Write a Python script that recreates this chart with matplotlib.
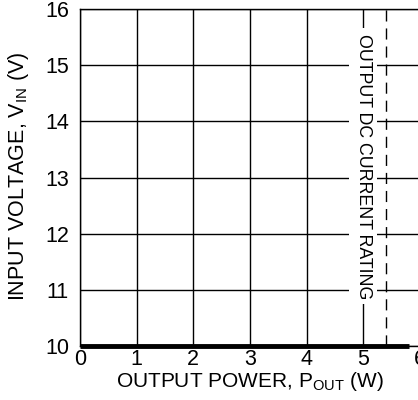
import matplotlib
matplotlib.use("Agg")
import matplotlib.pyplot as plt

plt.rcParams['font.family'] = ['Liberation Sans', 'DejaVu Sans']

# curve data (flat at the bottom of the range)
pout = [0.0, 5.8]
vin = [10.0, 10.0]
rating_x = 5.4
xticks = [0, 1, 2, 3, 4, 5, 6]
yticks = [10, 11, 12, 13, 14, 15, 16]

fig = plt.figure(figsize=(4.18, 4.0), dpi=100)
ax = fig.add_axes([80 / 418, 1 - 346 / 400, 340 / 418, 337 / 400])

ax.set_xlim(0, 6)
ax.set_ylim(10, 16)
ax.set_xticks(xticks)
ax.set_yticks(yticks)
ax.tick_params(length=0, labelsize=15.5)
ax.tick_params(axis='x', pad=2)
ax.tick_params(axis='y', pad=8)
ax.grid(True, color='black', linewidth=1)
ax.set_axisbelow(True)
for s in ax.spines.values():
    s.set_linewidth(1)
ax.spines['right'].set_visible(False)

ax.plot(pout, vin, color='black', linewidth=3.5, solid_capstyle='butt', clip_on=False, zorder=3)
ax.axvline(rating_x, color='black', linewidth=1, linestyle=(0, (8, 5)), zorder=3)

ax.text(5.0, 13.2, 'OUTPUT DC CURRENT RATING', rotation=-90, ha='center', va='center',
        fontsize=12.8, bbox=dict(facecolor='white', edgecolor='none', pad=4), zorder=4)

ax.set_xlabel('OUTPUT POWER, P$_{\\mathregular{OUT}}$ (W)', fontsize=15, labelpad=0)
ax.set_ylabel('INPUT VOLTAGE, V$_{\\mathregular{IN}}$ (V)', fontsize=15.5)
ax.yaxis.set_label_coords(-0.145, 0.505)

fig.savefig('out.png', dpi=100)
